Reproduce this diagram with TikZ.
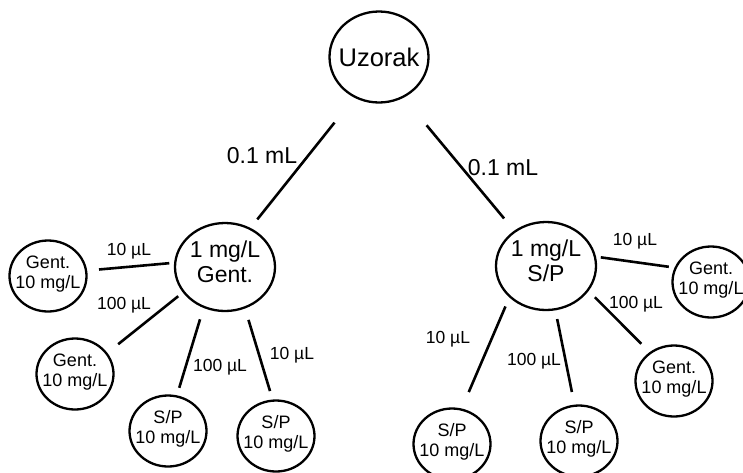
\documentclass[tikz,border=0pt]{standalone}
\usepackage{fontspec}
\setmainfont{Liberation Sans}
\usetikzlibrary{shapes.geometric}
\newcommand\twoline[3]{\makebox[0pt]{\fontsize{#1}{#2}\selectfont\raisebox{2pt}[\height][\depth]{\begin{tabular}{@{}c@{}}#3\end{tabular}}}}
\begin{document}
\begin{tikzpicture}[x=1pt,y=-1pt,
  circ/.style={ellipse, draw, line width=2.3pt, inner sep=0pt, outer sep=0pt},
  bigc/.style={circ, minimum width=99pt, minimum height=91pt},
  midc/.style={circ, minimum width=100pt, minimum height=88pt},
  smallc/.style={circ, minimum width=77pt, minimum height=71pt},
  conn/.style={line width=2.6pt},
  elab/.style={inner sep=0pt, font=\fontsize{17.5}{20}\selectfont},
  tlab/.style={inner sep=0pt, font=\fontsize{23}{26}\selectfont}]
\useasboundingbox (0,0) rectangle (743,472);
% nodes
\node[bigc] (uz) at (379,57) {\makebox[0pt]{\fontsize{25.5}{28}\selectfont Uzorak}};
\node[midc] (ml) at (225,267) {\twoline{23}{25}{1 mg/L\\Gent.}};
\node[midc] (mr) at (546,266) {\twoline{23}{25}{1 mg/L\\S/P}};
\node[smallc] (g1) at (48,276) {\twoline{18}{20}{Gent.\\10 mg/L}};
\node[smallc] (g2) at (75,374) {\twoline{18}{20}{Gent.\\10 mg/L}};
\node[smallc] (s1) at (168,431) {\twoline{18}{20}{S/P\\10 mg/L}};
\node[smallc] (s2) at (276,436) {\twoline{18}{20}{S/P\\10 mg/L}};
\node[smallc] (s3) at (452,444) {\twoline{18}{20}{S/P\\10 mg/L}};
\node[smallc] (s4) at (579,441) {\twoline{18}{20}{S/P\\10 mg/L}};
\node[smallc] (g4) at (674,381) {\twoline{18}{20}{Gent.\\10 mg/L}};
\node[smallc] (g3) at (711,282) {\twoline{18}{20}{Gent.\\10 mg/L}};
% connectors
\draw[conn, shorten <=33pt, shorten >=12pt] (uz.239) -- (ml.57);
\draw[conn, shorten <=37pt, shorten >=17pt] (uz.301) -- (mr.132);
\draw[conn, shorten <=6pt, shorten >=13pt] (ml.175) -- (g1.8);
\draw[conn, shorten <=7pt, shorten >=15pt] (ml.211) -- (g2.33);
\draw[conn, shorten <=13pt, shorten >=9pt] (ml.242) -- (s1.76);
\draw[conn, shorten <=13pt, shorten >=10pt] (ml.296) -- (s2.95);
\draw[conn, shorten <=6pt, shorten >=7pt] (mr.11) -- (g3.158);
\draw[conn, shorten <=10pt, shorten >=13pt] (mr.330) -- (g4.130);
\draw[conn, shorten <=11pt, shorten >=19pt] (mr.220) -- (s3.75);
\draw[conn, shorten <=10pt, shorten >=14pt] (mr.282) -- (s4.97);
% labels
\node[tlab] (t1) at (262,156) {0.1 mL};
\node[tlab] (t2) at (503,168) {0.1 mL};
\node[elab] (l1) at (129,251) {10 µL};
\node[elab] (l2) at (124,305) {100 µL};
\node[elab] (l3) at (220,367) {100 µL};
\node[elab] (l4) at (292,355) {10 µL};
\node[elab] (r1) at (635,241) {10 µL};
\node[elab] (r2) at (636,304) {100 µL};
\node[elab] (r3) at (448,339) {10 µL};
\node[elab] (r4) at (534,361) {100 µL};
\end{tikzpicture}
\end{document}
